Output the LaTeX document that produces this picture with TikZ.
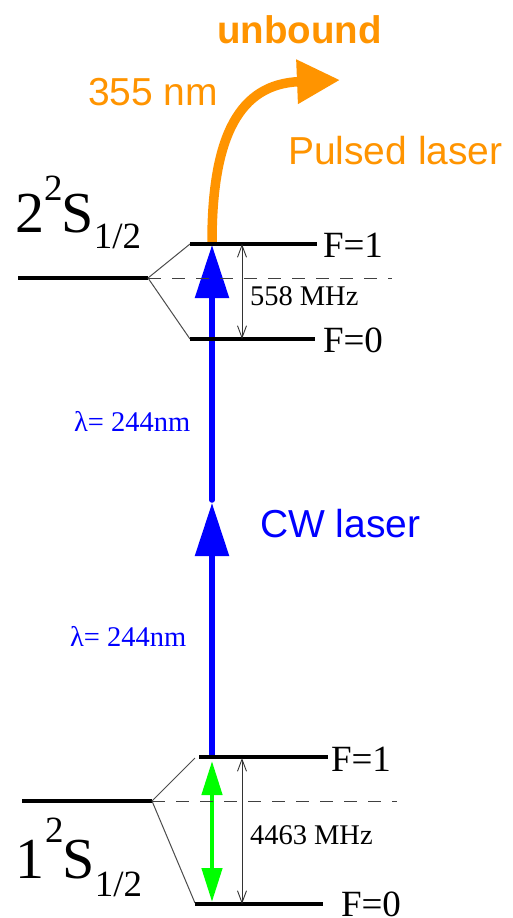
\documentclass[tikz,border=0pt]{standalone}
\usepackage{fontspec}
\setmainfont{Liberation Serif}
\newfontfamily\sansf{Liberation Sans}
\usetikzlibrary{arrows.meta}
\definecolor{orng}{RGB}{255,148,0}
\definecolor{blu}{RGB}{0,0,255}
\definecolor{grn}{RGB}{0,255,0}
\newcommand{\fs}[1]{\fontsize{#1}{#1}\selectfont}
\tikzset{
  levelline/.style={line width=3.5pt, black},
  splitline/.style={line width=1pt, black!70},
  midline/.style={line width=1pt, black!75, dash pattern=on 13pt off 11pt},
  gaparrow/.style={line width=0.9pt, black!80, {Straight Barb[length=12pt,width=9pt]}-{Straight Barb[length=12pt,width=9pt]}},
  txt/.style={anchor=base west, inner sep=0pt, outer sep=0pt},
  sanstxt/.style={txt, font=\sansf\fs{39}},
}
\begin{document}
\begin{tikzpicture}[x=1pt,y=-1pt]
\useasboundingbox (0,0) rectangle (512,918);
\fill[white] (0,0) rectangle (512,918);
\clip (0,0) rectangle (512,918);

% ---------- coordinates: upper 2S ----------
\coordinate (uL) at (18,278);
\coordinate (uS) at (148,278);
\coordinate (uD) at (392,278);
\coordinate (u1a) at (190,244);
\coordinate (u1b) at (317,244);
\coordinate (u0a) at (190,339);
\coordinate (u0b) at (315,339);
\coordinate (ugT) at (242,244);
\coordinate (ugB) at (242,339);

% ---------- coordinates: lower 1S ----------
\coordinate (lL) at (22,801);
\coordinate (lS) at (152,801);
\coordinate (lD) at (397,801);
\coordinate (l1s) at (195,758);
\coordinate (l1a) at (199,757);
\coordinate (l1b) at (328,757);
\coordinate (l0s) at (195,903);
\coordinate (l0a) at (195,904);
\coordinate (l0b) at (323,904);
\coordinate (lgT) at (242,758);
\coordinate (lgB) at (242,904);

% ---------- laser arrows ----------
\coordinate (b0) at (212,755);
\coordinate (bm) at (212,503);
\coordinate (bm2) at (212,500);
\coordinate (b1) at (212,245);
\draw[line width=5.5pt, blu, -{Triangle[width=33pt,length=53pt]}] (b0) -- (bm);
\draw[line width=5.5pt, blu, line cap=round, -{Triangle[width=33pt,length=53pt]}] (bm2) -- (b1);

\coordinate (g0) at (212,761);
\coordinate (g1) at (212,902);
\draw[line width=4.5pt, grn, {Triangle[width=20pt,length=34pt]}-{Triangle[width=20pt,length=34pt]}] (g0) -- (g1);

\coordinate (o0) at (212,242);
\coordinate (o1) at (340,80);
\draw[line width=9.5pt, orng, -{Triangle[width=42pt,length=43pt]}] (o0) .. controls (212,135) and (240,84) .. (o1);

% ---------- levels ----------
\draw[levelline] (uL) -- (uS);
\draw[splitline] (uS) -- (u1a);
\draw[splitline] (uS) -- (u0a);
\draw[midline] (uS) -- (uD);
\draw[levelline] (u1a) -- (u1b);
\draw[levelline] (u0a) -- (u0b);
\draw[gaparrow] (ugT) -- (ugB);

\draw[levelline] (lL) -- (lS);
\draw[splitline] (lS) -- (l1s);
\draw[splitline] (lS) -- (l0s);
\draw[midline] (lS) -- (lD);
\draw[levelline] (l1a) -- (l1b);
\draw[levelline] (l0a) -- (l0b);
\draw[gaparrow] (lgT) -- (lgB);

% ---------- texts ----------
\node[txt, font=\fs{37}] (uF1) at (323,257) {F=1};
\node[txt, font=\fs{37}] (uF0) at (323,352) {F=0};
\node[txt, font=\fs{37}] (lF1) at (331,771) {F=1};
\node[txt, font=\fs{37}] (lF0) at (341,916) {F=0};
\node[txt, font=\fs{28.5}] (u558) at (250,305) {558 MHz};
\node[txt, font=\fs{28.5}] (l4463) at (250,844) {4463 MHz};
\node[txt, font=\fs{28.5}, text=blu] (lam1) at (74,431) {λ= 244nm};
\node[txt, font=\fs{28.5}, text=blu] (lam2) at (70,646) {λ= 244nm};

\node[txt] (u2S) at (15,232) {\fs{58}2\raisebox{32pt}{\fs{37}2}\kern-1pt S\raisebox{-16pt}{\fs{37}1/2}};
\node[txt] (l1S) at (16,878) {\fs{58}1\raisebox{36pt}{\fs{37}2}\kern-1pt S\raisebox{-18pt}{\fs{37}1/2}};

\node[sanstxt, text=blu] (cw) at (260,537) {CW laser};
\node[sanstxt, text=orng] (pl) at (288,164) {Pulsed laser};
\node[sanstxt, text=orng] (nm) at (88,105) {355 nm};
\node[txt, font=\sansf\bfseries\fs{38.5}, text=orng] (ub) at (217,43) {unbound};
\end{tikzpicture}
\end{document}
